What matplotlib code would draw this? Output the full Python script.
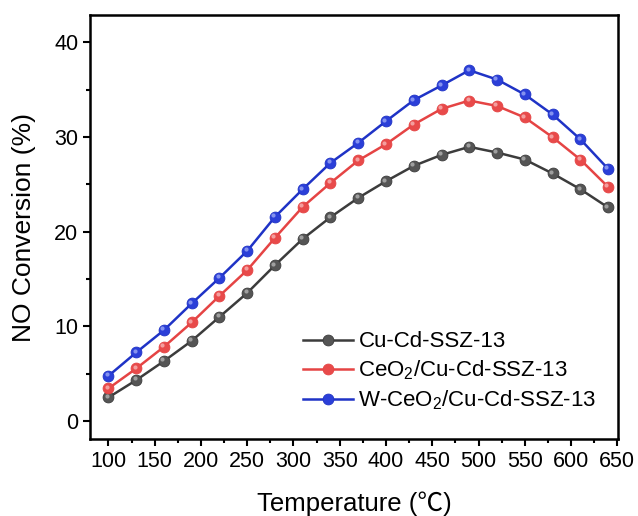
import matplotlib
matplotlib.use("Agg")
import matplotlib.pyplot as plt
from matplotlib.transforms import offset_copy

plt.rcParams.update({
    "font.family": ["Liberation Sans", "Noto Sans CJK SC", "DejaVu Sans"],
    "mathtext.fontset": "custom",
    "mathtext.rm": "Liberation Sans",
    "mathtext.it": "Liberation Sans:italic",
    "mathtext.bf": "Liberation Sans:bold",
    "axes.linewidth": 1.8,
})

temperature = [100, 130, 160, 190, 220, 250, 280, 310, 340, 370,
               400, 430, 460, 490, 520, 550, 580, 610, 640]

cu_cd = [2.50, 4.33, 6.34, 8.48, 11.01, 13.54, 16.47, 19.25, 21.54, 23.58,
         25.34, 26.96, 28.12, 28.97, 28.37, 27.63, 26.16, 24.50, 22.57]
ceo2_cu_cd = [3.45, 5.56, 7.85, 10.42, 13.23, 15.95, 19.36, 22.63, 25.16, 27.53,
              29.25, 31.33, 32.98, 33.86, 33.29, 32.07, 29.99, 27.63, 24.74]
w_ceo2_cu_cd = [4.78, 7.25, 9.61, 12.43, 15.13, 17.98, 21.57, 24.50, 27.28, 29.39,
                31.68, 33.90, 35.45, 37.06, 36.08, 34.50, 32.39, 29.78, 26.65]

labels = ["Cu-Cd-SSZ-13", "CeO$_2$/Cu-Cd-SSZ-13", "W-CeO$_2$/Cu-Cd-SSZ-13"]
series = [cu_cd, ceo2_cu_cd, w_ceo2_cu_cd]
line_colors = ["#3c3c3c", "#e54444", "#1f33c6"]
face_colors = ["#555555", "#e84a4a", "#2b3fd8"]
light_colors = ["#a8a8a8", "#f6a8a8", "#8f9cf2"]

fig = plt.figure(figsize=(6.38, 5.16), dpi=100)
ax = fig.add_axes([0.141, 0.149, 0.828, 0.822])

hl = offset_copy(ax.transData, fig=fig, x=-1.2, y=1.2, units="points")
for y, lab, lc, fc, lt in zip(series, labels, line_colors, face_colors, light_colors):
    ax.plot(temperature, y, color=lc, lw=1.8, marker="o", ms=7.8,
            mfc=fc, mec=lc, mew=0.6, label=lab, zorder=3)
    # small highlight to mimic the shaded ball markers
    ax.plot(temperature, y, ls="none", marker="o", ms=3, mfc=lt, mec="none",
            alpha=0.9, transform=hl, zorder=4)

ax.set_xlim(80, 651)
ax.set_ylim(-1.9, 42.9)
ax.set_xticks(range(100, 651, 50))
ax.set_xticks(range(125, 651, 50), minor=True)
ax.set_yticks(range(0, 41, 10))
ax.set_yticks(range(5, 41, 10), minor=True)
ax.tick_params(which="major", direction="out", length=5, width=1.5,
               labelsize=15.5, top=False, right=False)
ax.tick_params(which="minor", direction="out", length=3, width=1.5,
               top=False, right=False)

ax.set_xlabel("Temperature (℃)", fontsize=18.5, labelpad=14)
ax.set_ylabel("NO Conversion (%)", fontsize=19, labelpad=13)

ax.legend(loc="upper left", bbox_to_anchor=(0.403, 0.254), frameon=False,
          fontsize=16, handlelength=2.25, handletextpad=0.25,
          labelspacing=0.28, borderpad=0, borderaxespad=0)

fig.savefig("out.png", dpi=100)
